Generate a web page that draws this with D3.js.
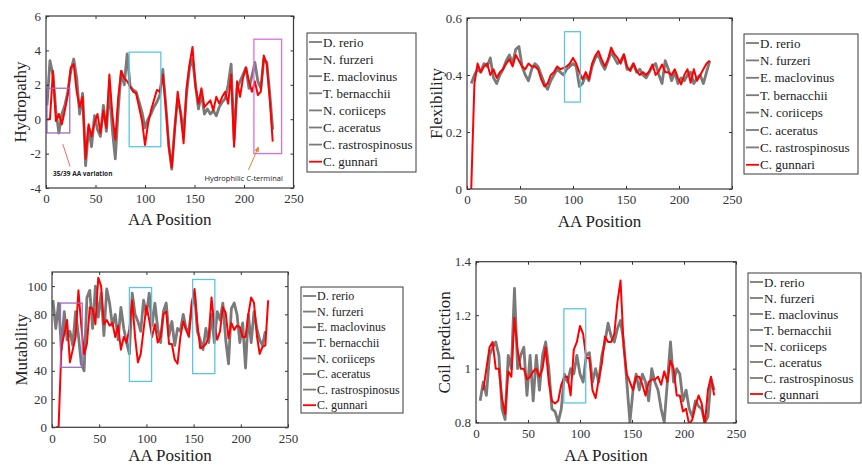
<!DOCTYPE html>
<html>
<head>
<meta charset="utf-8">
<script src="https://cdn.jsdelivr.net/npm/d3@7/dist/d3.min.js"></script>
<style>
  body { margin: 0; background: #fff; }
  svg text { font-family: "Liberation Serif", "Times New Roman", Tinos, "DejaVu Serif", "Noto Serif", serif; fill: #222; }
  svg text.ann { font-family: "Open Sans", "Liberation Sans", sans-serif; }
</style>
</head>
<body>
<svg id="fig" width="862" height="465"></svg>
<script>
// AA positions sampled every 3 residues
const positions = d3.range(1, 230, 3);

const species = ['D. rerio', 'N. furzeri', 'E. maclovinus', 'T. bernacchii',
  'N. coriiceps', 'C. aceratus', 'C. rastrospinosus', 'C. gunnari'];

// hydropathy
const hydroGray = [0.8,3.4,2.6,0.5,-0.8,0.3,0.8,1.6,2.8,3.5,2.4,0.3,1.5,-2.7,-0.5,-1.6,0.2,-0.6,-1.0,0.8,
  -0.7,1.8,-0.6,-2.3,0.6,2.8,2.0,3.8,1.9,1.7,1.6,1.0,0.4,-0.5,0.0,0.3,0.7,1.0,1.4,2.9,
  0.8,-1.5,-2.9,-0.5,1.2,0.4,-0.8,1.5,3.0,3.5,2.0,0.6,1.5,0.3,0.6,0.3,0.5,0.2,0.7,1.0,
  1.2,2.0,3.2,-1.2,1.8,2.2,2.6,3.0,1.8,2.5,3.3,2.2,1.8,3.5,3.3,1.5,-0.6];
const hydroRed = [0,0,2.8,-0.1,0.3,-0.3,0.5,1.4,3.0,3.2,1.6,0.7,1.3,-2.3,-0.3,-1.0,-0.2,0.3,-0.8,0.5,
  -0.5,2.6,0.3,-1.2,1.3,2.8,2.4,2.2,1.9,1.6,1.5,0.7,-0.1,-1.5,-0.3,0.5,1.1,1.7,1.6,2.6,
  0.7,-1.6,-2.8,-0.7,1.6,0.3,-1.4,1.8,3.2,4.2,1.9,0.9,1.8,0.7,0.9,1.1,0.5,1.3,0.9,1.3,
  1.6,0.9,2.6,-1.6,2.2,1.3,2.4,3.0,2.2,1.6,2.2,1.4,1.6,3.7,3.2,1.2,-1.3];

// flexibility
const flexGray = [null,0.37,0.40,0.42,0.41,0.44,0.43,0.46,0.39,0.37,0.40,0.42,0.45,0.47,0.44,0.49,0.50,0.43,0.40,0.38,
  0.42,0.44,0.43,0.40,0.37,0.35,0.38,0.40,0.42,0.41,0.40,0.42,0.43,0.44,0.43,0.36,0.37,0.40,0.38,0.43,
  0.46,0.47,0.44,0.42,0.45,0.48,0.46,0.44,0.45,0.47,0.42,0.42,0.44,0.41,0.42,0.40,0.39,0.41,0.43,0.44,
  0.40,0.37,0.45,0.42,0.38,0.41,0.37,0.39,0.38,0.40,0.41,0.37,0.39,0.40,0.37,0.41,0.45];
const flexRed = [null,0,0.37,0.44,0.41,0.43,0.44,0.40,0.42,0.39,0.41,0.42,0.44,0.455,0.43,0.47,0.45,0.43,0.42,0.44,
  0.43,0.43,0.42,0.385,0.36,0.37,0.40,0.41,0.43,0.42,0.425,0.43,0.44,0.46,0.44,0.41,0.385,0.41,0.385,0.44,
  0.467,0.484,0.455,0.43,0.455,0.496,0.473,0.46,0.44,0.473,0.43,0.414,0.44,0.414,0.40,0.41,0.40,0.414,0.437,0.40,
  0.414,0.437,0.41,0.41,0.40,0.42,0.39,0.367,0.40,0.42,0.373,0.42,0.38,0.40,0.42,0.44,0.45];

// mutability
const mutGray = [90,70,88,55,82,62,68,58,82,65,45,40,92,97,70,100,78,95,65,98,
  88,72,80,62,85,70,60,52,95,80,75,68,90,80,95,72,88,70,60,82,
  88,65,75,58,70,68,80,70,68,85,95,68,62,55,70,60,80,60,82,76,
  88,62,45,84,88,80,60,74,42,80,60,82,70,62,58,68,null];
const mutRed = [null,0,0,57,66,76,46,55,64,97,72,52,59,85,84,73,106,100,73,76,
  72,74,64,72,55,64,60,70,90,64,46,52,69,86,76,64,73,60,64,80,
  82,59,59,48,45,64,75,69,64,88,98,73,56,57,59,64,92,72,62,68,
  85,81,63,74,69,72,71,64,64,80,92,88,65,52,57,58,90];

// coil prediction
const coilGray = [null,0.88,0.95,0.9,1.05,1.08,1.1,1.05,0.85,0.81,1.05,1.0,1.3,1.0,1.05,1.08,0.9,1.05,0.88,1.05,
  0.92,1.05,1.1,1.0,0.85,0.84,0.8,0.85,0.98,0.95,1.0,0.98,1.05,0.98,0.95,1.05,1.06,0.95,1.0,0.95,
  1.05,1.1,1.17,1.12,1.1,1.15,1.18,1.1,0.95,0.8,0.92,0.98,0.92,0.98,0.95,0.88,1.0,0.95,0.92,0.85,
  0.8,0.95,1.1,0.95,1.0,0.98,0.88,0.92,0.85,0.82,0.88,0.86,0.85,0.8,0.82,0.96,0.92];
const coilRed = [null,null,0.92,1.0,1.08,1.1,1.0,1.0,0.89,0.83,0.99,0.97,1.19,1.07,1.0,1.0,0.96,0.97,0.99,1.0,
  0.97,1.0,1.08,0.95,0.88,0.87,0.88,0.94,0.97,0.97,0.9,1.07,1.1,1.16,1.13,1.04,1.04,0.92,0.89,0.96,
  1.02,1.12,1.1,1.1,1.13,1.25,1.33,1.08,0.98,0.95,0.92,0.97,0.97,0.94,0.9,0.95,0.96,0.96,0.97,0.94,
  0.99,0.95,1.03,1.0,0.9,0.9,0.84,0.85,0.79,0.81,0.86,0.9,0.87,0.79,0.92,0.97,0.9];

const xTicks = [0, 50, 100, 150, 200, 250];

// highlight boxes in data units: [x0, x1, y0, y1, colour]
const hydroBoxes = [[1, 24, -0.8, 1.8, '#9a6cc8'], [84, 116, -1.6, 3.9, '#5cc6e0'], [210, 238, -2.0, 4.65, '#dc6ee0']];
const flexBoxes = [[92, 107, 0.305, 0.552, '#5cc6e0']];
const mutBoxes = [[9, 32, 42.5, 88, '#9a6cc8'], [82, 105.5, 32.5, 99, '#5cc6e0'], [149, 172.5, 38, 104.7, '#5cc6e0']];
const coilBoxes = [[84.5, 105.5, 0.872, 1.224, '#5cc6e0']];

const panels = [
  { gray: hydroGray, red: hydroRed, label: 'Hydropathy', yDomain: [-4, 6], yTicks: [-4, -2, 0, 2, 4, 6],
    l: 46, r: 293.5, t: 16, b: 188, ylx: 20, xly: 225, boxes: hydroBoxes,
    leg: { x: 307, y: 33, w: 109, h: 139, step: 17.1, fs: 13 } },
  { gray: flexGray, red: flexRed, label: 'Flexibility', yDomain: [0, 0.6], yTicks: [0, 0.2, 0.4, 0.6],
    l: 467, r: 732, t: 18, b: 189, ylx: 436, xly: 227, boxes: flexBoxes,
    leg: { x: 744, y: 34, w: 114, h: 140, step: 17.4, fs: 13 } },
  { gray: mutGray, red: mutRed, label: 'Mutability', yDomain: [0, 110], yTicks: [0, 20, 40, 60, 80, 100],
    l: 52, r: 288, t: 272, b: 427.3, ylx: 21, xly: 461, boxes: mutBoxes,
    leg: { x: 301, y: 287, w: 102, h: 126, step: 15.6, fs: 12 } },
  { gray: coilGray, red: coilRed, label: 'Coil prediction', yDomain: [0.797, 1.4], yTicks: [0.8, 1, 1.2, 1.4],
    l: 476, r: 736, t: 261.7, b: 423, ylx: 444, xly: 461, boxes: coilBoxes,
    leg: { x: 748, y: 273, w: 113, h: 130, step: 16, fs: 13 } }
];

const svg = d3.select('#fig');

panels.forEach((p, pi) => {
  const x = d3.scaleLinear().domain([0, 250]).range([p.l, p.r]);
  const y = d3.scaleLinear().domain(p.yDomain).range([p.b, p.t]);
  const g = svg.append('g');

  const clipId = 'clip' + pi;
  g.append('clipPath').attr('id', clipId)
    .append('rect').attr('x', p.l).attr('y', p.t).attr('width', p.r - p.l).attr('height', p.b - p.t);

  const line = d3.line()
    .defined(d => d[1] !== null)
    .x(d => x(d[0]))
    .y(d => y(d[1]));

  const lines = g.append('g').attr('clip-path', `url(#${clipId})`);
  lines.append('path')
    .datum(positions.map((v, i) => [v, p.gray[i]]))
    .attr('fill', 'none')
    .attr('stroke', '#7a7a7a')
    .attr('stroke-width', 2.8)
    .attr('stroke-linejoin', 'round')
    .attr('d', line);
  lines.append('path')
    .datum(positions.map((v, i) => [v, p.red[i]]))
    .attr('fill', 'none')
    .attr('stroke', '#ff0000')
    .attr('stroke-width', 2)
    .attr('stroke-linejoin', 'round')
    .attr('d', line);

  // highlight boxes
  g.selectAll('rect.hl').data(p.boxes).enter().append('rect')
    .attr('class', 'hl')
    .attr('x', d => x(d[0]))
    .attr('y', d => y(d[3]))
    .attr('width', d => x(d[1]) - x(d[0]))
    .attr('height', d => y(d[2]) - y(d[3]))
    .attr('fill', 'none')
    .attr('stroke', d => d[4])
    .attr('stroke-width', 1.3);

  // axes, matlab style ticks inside on all four sides
  const fmt = d => String(d);
  const axB = g.append('g').attr('transform', `translate(0,${p.b})`)
    .call(d3.axisBottom(x).tickValues(xTicks).tickSize(-3).tickPadding(6).tickFormat(fmt));
  const axL = g.append('g').attr('transform', `translate(${p.l},0)`)
    .call(d3.axisLeft(y).tickValues(p.yTicks).tickSize(-3).tickPadding(5).tickFormat(fmt));
  const axT = g.append('g').attr('transform', `translate(0,${p.t})`)
    .call(d3.axisTop(x).tickValues(xTicks).tickSize(-3).tickFormat(''));
  const axR = g.append('g').attr('transform', `translate(${p.r},0)`)
    .call(d3.axisRight(y).tickValues(p.yTicks).tickSize(-3).tickFormat(''));
  [axB, axL, axT, axR].forEach(a => {
    a.attr('font-family', null);
    a.select('.domain').remove();
    a.selectAll('line').attr('stroke', '#333');
    a.selectAll('text').style('font-size', '13px').style('fill', '#333');
  });

  g.append('rect')
    .attr('x', p.l).attr('y', p.t)
    .attr('width', p.r - p.l).attr('height', p.b - p.t)
    .attr('fill', 'none').attr('stroke', '#3a3a3a').attr('stroke-width', 1.2);

  g.append('text')
    .attr('x', (p.l + p.r) / 2).attr('y', p.xly)
    .attr('text-anchor', 'middle')
    .style('font-size', '17px')
    .text('AA Position');

  g.append('text')
    .attr('transform', `translate(${p.ylx},${(p.t + p.b) / 2}) rotate(-90)`)
    .attr('text-anchor', 'middle')
    .attr('dy', '0.35em')
    .style('font-size', '17px')
    .text(p.label);

  // legend
  const lg = g.append('g').attr('transform', `translate(${p.leg.x},${p.leg.y})`);
  lg.append('rect').attr('width', p.leg.w).attr('height', p.leg.h)
    .attr('fill', '#fff').attr('stroke', '#3a3a3a').attr('stroke-width', 1);
  const items = lg.selectAll('g.item').data(species).enter().append('g')
    .attr('class', 'item')
    .attr('transform', (d, i) => `translate(0,${9 + i * p.leg.step})`);
  items.append('line')
    .attr('x1', 2).attr('x2', 15)
    .attr('stroke', (d, i) => i === species.length - 1 ? '#ff0000' : '#7a7a7a')
    .attr('stroke-width', 1.8);
  items.append('text')
    .attr('x', 16).attr('dy', '0.35em')
    .style('font-size', p.leg.fs + 'px')
    .text(d => d);

  // annotations on the hydropathy panel
  if (pi === 0) {
    g.append('line')
      .attr('x1', x(17)).attr('y1', y(-1.45))
      .attr('x2', x(24.3)).attr('y2', y(-2.75))
      .attr('stroke', '#e8453c').attr('stroke-width', 0.8);
    g.append('text').attr('class', 'ann')
      .attr('x', x(7)).attr('y', y(-3.3))
      .style('font-size', '6.5px').style('font-weight', 'bold')
      .text('35/39 AA variation');

    g.append('defs').append('marker')
      .attr('id', 'arr').attr('viewBox', '0 0 10 10')
      .attr('refX', 9).attr('refY', 5)
      .attr('markerWidth', 5).attr('markerHeight', 5)
      .attr('orient', 'auto')
      .append('path').attr('d', 'M0,0L10,5L0,10z').attr('fill', '#e8822a');
    g.append('line')
      .attr('x1', x(204.5)).attr('y1', y(-2.95))
      .attr('x2', x(214.6)).attr('y2', y(-1.62))
      .attr('stroke', '#e8822a').attr('stroke-width', 1)
      .attr('marker-end', 'url(#arr)');
    g.append('text').attr('class', 'ann')
      .attr('x', x(160)).attr('y', y(-3.6))
      .style('font-size', '7.5px')
      .text('Hydrophilic C-terminal');
  }
});
</script>
</body>
</html>
